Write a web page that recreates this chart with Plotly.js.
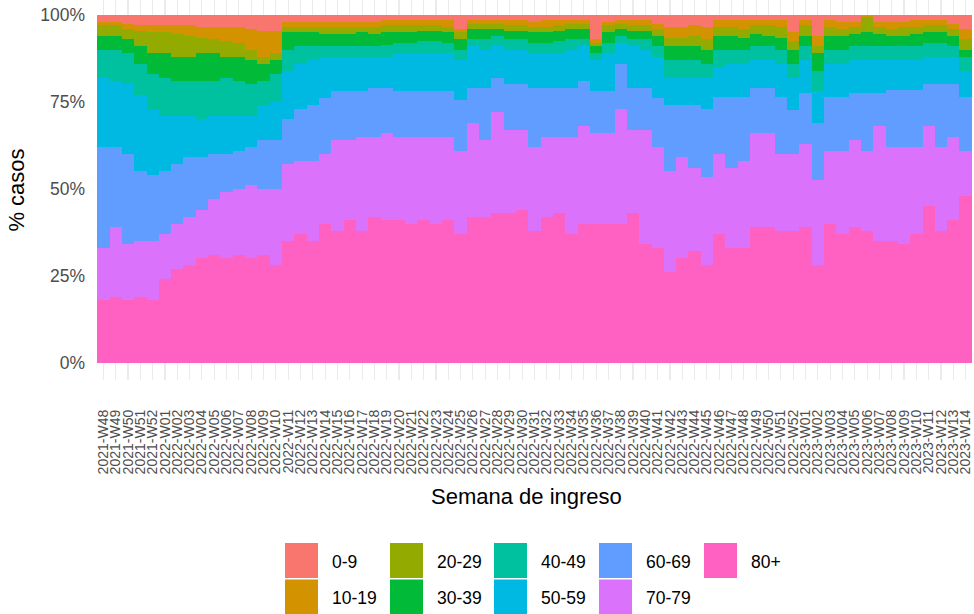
<!DOCTYPE html>
<html><head><meta charset="utf-8">
<script src="https://cdn.plot.ly/plotly-3.0.1.min.js"></script>
<style>html,body{margin:0;padding:0;background:#fff}#chart{width:974px;height:614px}</style>
</head><body><div id="chart"></div>
<script>
const weeks = [
"2021-W48","2021-W49","2021-W50","2021-W51","2021-W52",
"2022-W01","2022-W02","2022-W03","2022-W04","2022-W05","2022-W06","2022-W07","2022-W08","2022-W09","2022-W10",
"2022-W11","2022-W12","2022-W13","2022-W14","2022-W15","2022-W16","2022-W17","2022-W18","2022-W19","2022-W20",
"2022-W21","2022-W22","2022-W23","2022-W24","2022-W25","2022-W26","2022-W27","2022-W28","2022-W29","2022-W30",
"2022-W31","2022-W32","2022-W33","2022-W34","2022-W35","2022-W36","2022-W37","2022-W38","2022-W39","2022-W40",
"2022-W41","2022-W42","2022-W43","2022-W44","2022-W45","2022-W46","2022-W47","2022-W48","2022-W49","2022-W50",
"2022-W51","2022-W52",
"2023-W01","2023-W02","2023-W03","2023-W04","2023-W05","2023-W06","2023-W07","2023-W08","2023-W09","2023-W10",
"2023-W11","2023-W12","2023-W13","2023-W14"];

const ageGroups = ["0-9","10-19","20-29","30-39","40-49","50-59","60-69","70-79","80+"];
const groupColors = ["#F8766D","#D39200","#93AA00","#00BA38","#00C19F","#00B9E3","#619CFF","#DB72FB","#FF61C3"];

const pct_0_9 = [2,2,2.5,3,3,3,3,3,3.5,3.5,
 3.5,3.5,4,4.5,4.5,2,2,2,2,2,
 2,2,2,1.5,1.5,1.5,1.5,1.5,1.5,4,
 1.5,1.5,1.5,1.5,1.5,2,1.5,1.5,1.5,1.5,
 7,2,1.5,1.5,1.5,2.5,3.5,3.5,3,3.5,
 1.5,1.5,1.5,1.5,1.5,1.5,5,1.5,6,1.5,
 2,2,0.2,2,2,2,1.5,1.5,1.5,2.5,
 4];
const pct_10_19 = [1,1,1.5,1.5,2,2,2.5,3,3,3.5,
 4,4.5,6,7.5,6.5,1.5,1.5,1.5,1.5,1.5,
 1.5,1.5,1.5,1.5,1.5,1.5,1.5,1.5,2,1,
 1,1,1,1.5,1.5,1.5,2,1.5,1,1,
 1,1,1,1.5,1.5,1.5,3,3,3,3.5,
 2,2,2.5,1.5,1.5,2,2.5,1.5,3,2,
 2,1.5,0.3,1.5,2,1.5,2,1.5,1.5,1.5,
 3];
const pct_20_29 = [3,3,3,4.5,6,6,6.5,6,4.5,4,
 4.5,4,3,2,2,1.5,1.5,1.5,2,2,
 2,1.5,2,2,2,2,1.5,1.5,1.5,2,
 1.5,1.5,1.5,1.5,1.5,1.5,1.5,1.5,1.5,1.5,
 1,2,1.5,1.5,1.5,2,2.5,2.5,3,3,
 2.5,2.5,2.5,2.5,3,3,2.5,3,2,2.5,
 2,2,4.5,2,2,2.5,2,2,2,2,
 3];
const pct_30_39 = [4,4,4,5,6,7,7,7,8,8,
 6,7,7,5,4,5,4,4,3.5,3.5,
 3.5,4,3.5,3.5,3,3,3,3,3,3,
 3,3,2,2.5,2.5,3,3,3,3,3,
 2,3,2,2.5,2.5,3,4,4,4,4,
 4,4,3.5,3.5,3,3.5,4,3,5,4,
 4,3.5,4,3.5,3,3,3.5,3,3,3,
 2];
const pct_40_49 = [8,9,9,9,10,11,10,10,11,10,
 11,10,9,7,8,6,5,4,3,3,
 3,3,3,3.5,3,3,3.5,3.5,3,3,
 2,3,3,3,3,3,3,3.5,3,2,
 2,3,2,2,3,3,5,5,5,4,
 5,4,4,4,4,4,4,4,6,4,
 4,4,4,4,4,4,4,4,4,3,
 4];
const pct_50_59 = [20,19,20,22,19,16,14,12,11,11,
 11,10,9,10,11,14,13,13,12,10,
 10,10,9,9,11,11,11,11,11,11.5,
 12,11,9,10,10,10,10,10,11,10,
 9,11,6,12,11,12,8,8,8,9,
 8.5,9.5,9.5,8,8,9.5,9.3,9.5,9,9.5,
 9.5,9.5,9.5,9.5,8.5,8.5,8.5,8,8,8,
 7.5];
const pct_60_69 = [29,23,26,20,19,18,17,17,15,13,
 11,11,11,14,14,13,15,16,16,14,
 14,13,14,13,13,13,13,13,13,14.5,
 10,15,10,13,13,17,14,14,14,13,
 12,12,13,12,12,14,19,15,18,19.5,
 16.5,20.5,18.5,13,13,16.5,12.7,14.5,16.4,15.5,
 15.5,13.5,16.5,9.5,16.5,16.5,16.5,12,18,15,
 15.5];
const pct_70_79 = [15,20,16,16,17,13,13,14,14,16,
 19,19,21,19,22,22,21,23,20,26,
 23,27,23,25,24,25,24,25,24,24,
 27,22,29,24,23,24,23,22,28,28,
 26,26,33,24,33,29,29,29,24,25.5,
 23,23,25,27,27,22,22,24,24.6,21,
 24,25,23,33,27,28,25,23,24,24,
 13];
const pct_80p = [18,19,18,19,18,24,27,28,30,31,
 30,31,30,31,28,35,37,35,40,38,
 41,38,42,41,41,40,41,40,41,37,
 42,42,43,43,44,38,42,43,37,40,
 40,40,40,43,34,33,26,30,32,28,
 37,33,33,39,39,38,38,39,28,40,
 37,39,38,35,35,34,37,45,38,41,
 48];

const series = [pct_0_9,pct_10_19,pct_20_29,pct_30_39,pct_40_49,pct_50_59,pct_60_69,pct_70_79,pct_80p];
const yTickVals = [0,25,50,75,100];
const yTickText = ["0%","25%","50%","75%","100%"];

const FONT = "Liberation Sans, Arial, sans-serif";
const W = 974, H = 614;
const M = {l:96, r:1, t:0, b:234};
const PW = W - M.l - M.r, PH = H - M.t - M.b;
const px = x => (x - M.l) / PW;
const py = y => (M.t + PH - y) / PH;

// stacking order: 80+ at the bottom, 0-9 on top
const traces = [];
for (let i = ageGroups.length - 1; i >= 0; i--) {
  traces.push({
    type: "bar", x: weeks, y: series[i], name: ageGroups[i],
    marker: {color: groupColors[i], line: {width: 0}},
    hovertemplate: "%{x}<br>" + ageGroups[i] + ": %{y:.1f}%<extra></extra>"
  });
}

// manual legend (2 rows, filled column by column like ggplot)
const shapes = [], annotations = [];
const colX = [285, 390, 494, 599, 704];
for (let i = 0; i < ageGroups.length; i++) {
  const c = Math.floor(i / 2), r = i % 2;
  const x0 = colX[c], y0 = 543 + r * 36.5;
  shapes.push({type: "rect", xref: "paper", yref: "paper",
    x0: px(x0), x1: px(x0 + 33), y0: py(y0 + 35), y1: py(y0),
    fillcolor: groupColors[i], line: {width: 0}, layer: "above"});
  annotations.push({xref: "paper", yref: "paper", x: px(x0 + 45), y: py(y0 + 18.5),
    xanchor: "left", yanchor: "middle", showarrow: false, text: ageGroups[i],
    font: {family: FONT, size: 17.5, color: "#000000"}});
}
annotations.push({xref: "paper", yref: "paper", x: px(526), y: py(496),
  xanchor: "center", yanchor: "middle", showarrow: false, text: "Semana de ingreso",
  font: {family: FONT, size: 22, color: "#000000"}});

const layout = {
  width: W, height: H, margin: M,
  paper_bgcolor: "#ffffff", plot_bgcolor: "#ffffff",
  font: {family: FONT, color: "#000000"},
  barmode: "stack", barnorm: "percent", bargap: 0,
  showlegend: false,
  xaxis: {type: "category", range: [-0.6, weeks.length - 0.4],
    tickmode: "array", tickvals: weeks, ticktext: weeks,
    tickangle: -90, tickfont: {family: FONT, size: 14, color: "#4D4D4D"},
    ticks: "", ticklabelstandoff: 26,
    showgrid: true, gridcolor: "#EBEBEB", gridwidth: 1.1,
    showline: false, zeroline: false, automargin: false, fixedrange: true},
  yaxis: {range: [-5, 104.3], tickmode: "array", tickvals: yTickVals, ticktext: yTickText,
    tickfont: {family: FONT, size: 17.5, color: "#4D4D4D"},
    ticks: "", ticklabelstandoff: 10,
    showgrid: false, zeroline: false, showline: false, automargin: false, fixedrange: true,
    title: {text: "% casos", font: {family: FONT, size: 22, color: "#000000"}, standoff: 9}},
  shapes: shapes, annotations: annotations
};

Plotly.newPlot("chart", traces, layout, {displayModeBar: false, staticPlot: true});
</script>
</body></html>
